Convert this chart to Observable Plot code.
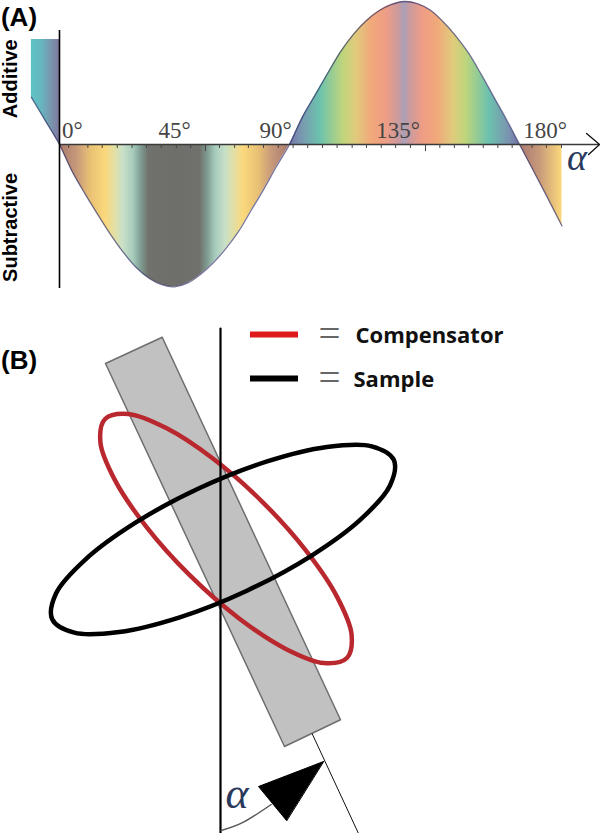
<!DOCTYPE html>
<html>
<head>
<meta charset="utf-8">
<script src="https://cdn.jsdelivr.net/npm/d3@7"></script>
<script src="https://cdn.jsdelivr.net/npm/@observablehq/plot@0.6"></script>
<style>
html,body{margin:0;padding:0;background:#fff}
svg{display:block}
</style>
</head>
<body>
<script>
// ---- Panel A data: retardation vs. angle alpha ----
const curveAlpha = [-11,-5.5,0,5,10,15,20,25,30,35,40,45,50,55,60,65,70,75,80,85,90,95,100,105,110,115,120,125,130,135,140,145,150,155,160,165,170,175,180,185,190,196.6];
const curveValue = [0.33,0.165,0,-0.19,-0.345,-0.49,-0.63,-0.755,-0.86,-0.935,-0.98,-0.995,-0.97,-0.91,-0.83,-0.73,-0.61,-0.46,-0.31,-0.15,0,0.19,0.345,0.5,0.65,0.77,0.865,0.935,0.98,1,0.985,0.94,0.86,0.76,0.64,0.49,0.33,0.17,0,-0.17,-0.34,-0.57];
const additiveTop = 0.734;
const stopAlpha = [-11,-7,-3,0,0,7,12,18,22,25,29,32,35,45,55,58,61,65,68,72,78,83,90,90,94,102,111,116,122,128,133,135,137,142,148,154,159,168,176,180,180,188,196.6];
const stopColor = ["#5fc4c6","#66b6c0","#7a94ad","#80799f","#a9796f","#c79a7a","#e8c074","#fbd87c","#dfe0a8","#c8e0c8","#a6cbbc","#7f9c92","#70716c","#6e6e6a","#70716c","#7f9c92","#a6cbbc","#c8e0c8","#dfe0a8","#fbd87c","#e8c074","#c79a7a","#a9796f","#7474a6","#7a93b0","#6cc2ae","#bfd57c","#e0cb7c","#f0a97a","#ee9d86","#c99a9f","#a8a0b8","#c99a9f","#ee9d86","#f0a97a","#e0cb7c","#bfd57c","#6cc2ae","#7a93b0","#7474a6","#a9796f","#c79a7a","#fbd87c"];
const tickAlpha = [3.6,11.1,16.7,22.6,28.4,34,39.8,45.7,51.3,62.6,68.5,73.9,79.8,85.6,91.4,97.1,102.9,108.6,114.5,120.1,125.9,131.5,137.3,148.8,154.5,160.1,165.8,171.5,177.1,184.9,190.5,196.4];
const longTickAlpha = [57.1,143.2];
const angleLabels = ["0°","45°","90°","135°","180°"];
const angleLabelAlpha = [5,45,84.5,132.5,190];
const arrowAlpha = [206.2,211.3,207];
const arrowValue = [0.077,0,-0.07];

// ---- Panel B data: diagram coordinates ----
const plateX = [105,161.7,340,284];
const plateY = [363,336.7,719.3,746];
const redX = [346.4,351.1,336.7,305.3,261.8,212.7,165.7,127.7,104.6,99.9,114.3,145.7,189.2,238.3,285.3,323.3];
const redY = [657.5,634.3,596.6,549.9,501.3,458.3,427.6,413.5,418.5,441.7,479.4,526.1,574.7,617.7,648.4,662.5];
const blackX = [393.3,371.1,326.4,265.8,198.6,135,84.8,55.5,51.7,73.9,118.6,179.2,246.4,310,360.2,389.5];
const blackY = [459.3,445.8,446.5,461.2,487.8,522.2,559.1,593,618.7,632.2,631.5,616.8,590.2,555.8,518.9,485];
const normalX = [220,220];
const normalY = [328,833];
const axisX = [311.7,358];
const axisY = [733.3,833];
const arcX = [220.7,243,270.7];
const arcY = [830,821.7,804];
const wedgeX = [323,258,286];
const wedgeY = [761,786,820];
const legendNames = ["Compensator","Sample"];
const legendColors = ["#e01a1a","#000000"];
const legendY = [334,378];
const legendStart = [250,250];
const legendEnd = [298,298];

const serif = "'Liberation Serif', serif";
const sans = "'Liberation Sans', Arial, sans-serif";
const zip = (xs, ys) => xs.map((x, i) => ({x, y: ys[i]}));

const curve = zip(curveAlpha, curveValue);
const tail = curve.filter(d => d.x <= 0);
const main = curve.filter(d => d.x >= 0);

const chartA = Plot.plot({
  width: 600, height: 310,
  margin: 0,
  style: {background: "#fff"},
  x: {domain: [-23.08, 211.66], range: [0, 600], axis: null},
  y: {domain: [144 / 143, -166 / 143], range: [0, 310], axis: null},
  marks: [
    Plot.areaY(tail, {x: "x", y1: additiveTop, y2: "y", fill: "url(#rainbow)"}),
    Plot.areaY(main, {x: "x", y1: 0, y2: "y", fill: "url(#rainbow)", curve: "catmull-rom"}),
    Plot.line(curve, {x: "x", y: "y", stroke: "#2b2b66", strokeOpacity: 0.65, strokeWidth: 1.3, curve: "catmull-rom"}),
    Plot.ruleY([0], {x1: 0, x2: 211.3, stroke: "#3a3a3a", strokeWidth: 1.4}),
    Plot.ruleX([0], {y1: -1.007, y2: 0.797, stroke: "#000", strokeWidth: 1.6}),
    Plot.ruleX(tickAlpha, {y1: 0, y2: -0.028, stroke: "#444", strokeWidth: 1}),
    Plot.ruleX(longTickAlpha, {y1: 0, y2: -0.05, stroke: "#444", strokeWidth: 1}),
    Plot.line(zip(arrowAlpha, arrowValue), {x: "x", y: "y", stroke: "#111", strokeWidth: 1.3}),
    Plot.text(angleLabels, {x: (d, i) => angleLabelAlpha[i], y: 0.045, text: d => d, fontFamily: serif, fontSize: 23, fill: "#444", textAnchor: "middle", lineAnchor: "bottom"}),
    Plot.text(["α"], {x: 198.6, y: -0.09, text: d => d, fontFamily: serif, fontStyle: "italic", fontSize: 38, fill: "#2a3a5c", textAnchor: "start"}),
    Plot.text(["(A)"], {x: -22.9, y: 0.888, text: d => d, fontFamily: sans, fontWeight: "bold", fontSize: 26, fill: "#000", textAnchor: "start"}),
    Plot.text(["Additive"], {x: -19.3, y: 0.46, text: d => d, rotate: -90, fontFamily: sans, fontWeight: "bold", fontSize: 20, fill: "#000"}),
    Plot.text(["Subtractive"], {x: -19.3, y: -0.58, text: d => d, rotate: -90, fontFamily: sans, fontWeight: "bold", fontSize: 20, fill: "#000"})
  ]
});

// the colour bands of panel A, laid out through the chart's own x scale
const xA = chartA.scale("x");
const grad = d3.select(chartA).insert("defs", ":first-child").append("linearGradient")
  .attr("id", "rainbow").attr("gradientUnits", "userSpaceOnUse")
  .attr("x1", xA.apply(-11)).attr("x2", xA.apply(196.6)).attr("y1", 0).attr("y2", 0);
stopAlpha.forEach((a, i) => grad.append("stop")
  .attr("offset", (a + 11) / 207.6).attr("stop-color", stopColor[i]));

const chartB = Plot.plot({
  width: 600, height: 523,
  margin: 0,
  style: {background: "#fff"},
  x: {domain: [0, 600], range: [0, 600], axis: null},
  y: {domain: [310, 833], range: [0, 523], axis: null},
  marks: [
    Plot.line(zip(plateX, plateY), {x: "x", y: "y", curve: "linear-closed", fill: "#c1c1c1", stroke: "#6e6e6e", strokeWidth: 1.5}),
    Plot.line(zip(redX, redY), {x: "x", y: "y", curve: "catmull-rom-closed", stroke: "#b9282e", strokeWidth: 4.5}),
    Plot.line(zip(blackX, blackY), {x: "x", y: "y", curve: "catmull-rom-closed", stroke: "#000", strokeWidth: 4.5}),
    Plot.line(zip(normalX, normalY), {x: "x", y: "y", stroke: "#000", strokeWidth: 2.2}),
    Plot.line(zip(axisX, axisY), {x: "x", y: "y", stroke: "#111", strokeWidth: 1}),
    Plot.line(zip(arcX, arcY), {x: "x", y: "y", stroke: "#555", strokeWidth: 1.4, curve: "natural"}),
    Plot.line(zip(wedgeX, wedgeY), {x: "x", y: "y", curve: "linear-closed", fill: "#000", stroke: "#000", strokeWidth: 1}),
    Plot.text(["α"], {x: 225, y: 793, text: d => d, fontFamily: serif, fontStyle: "italic", fontSize: 44, fill: "#2a3a5c", textAnchor: "start"}),
    Plot.text(["(B)"], {x: 0.5, y: 360, text: d => d, fontFamily: sans, fontWeight: "bold", fontSize: 26, fill: "#000", textAnchor: "start"}),
    Plot.ruleY(legendY, {x1: (d, i) => legendStart[i], x2: (d, i) => legendEnd[i], stroke: (d, i) => legendColors[i], strokeWidth: 6}),
    Plot.text(legendY, {x: 329, y: d => d, text: () => "=", fontFamily: serif, fontSize: 39, fill: "#666", textAnchor: "middle"}),
    Plot.text(legendNames, {x: (d, i) => [355, 353][i], y: (d, i) => legendY[i] + 1, text: d => d, fontFamily: "'Open Sans', sans-serif", fontWeight: "bold", fontSize: 22, fill: "#111", textAnchor: "start"})
  ]
});

document.body.append(chartA, chartB);
</script>
</body>
</html>
